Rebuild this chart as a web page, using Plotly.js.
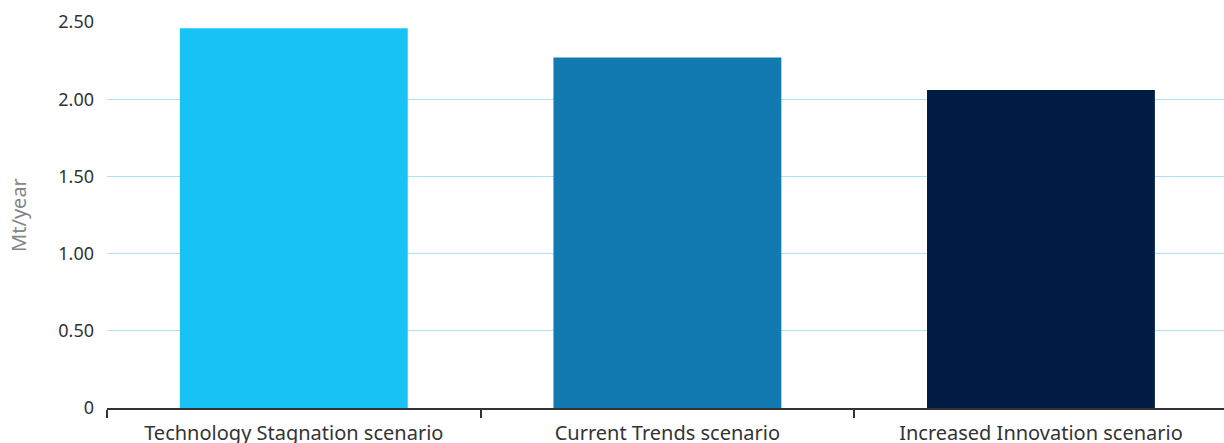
<!DOCTYPE html>
<html>
<head>
<meta charset="utf-8">
<script src="https://cdn.plot.ly/plotly-3.0.1.min.js"></script>
<style>
html,body{margin:0;padding:0;background:#fff;overflow:hidden;}
#chart{width:1224px;height:443px;}
</style>
</head>
<body>
<div id="chart"></div>
<script>
const categories = ["Technology Stagnation scenario", "Current Trends scenario", "Increased Innovation scenario"];
const values = [2.46, 2.27, 2.06];
const barColors = ["#17c2f4", "#127ab0", "#001b44"];
const yTickVals = [0, 0.5, 1.0, 1.5, 2.0, 2.5];
const yTickText = ["0", "0.50", "1.00", "1.50", "2.00", "2.50"];

const trace = {
  type: "bar",
  x: categories,
  y: values,
  marker: {color: barColors},
  hoverinfo: "none"
};

const layout = {
  width: 1224,
  height: 443,
  margin: {l: 107, r: 0, t: 22, b: 35},
  paper_bgcolor: "#ffffff",
  plot_bgcolor: "#ffffff",
  bargap: 0.39,
  showlegend: false,
  font: {family: "Noto Sans, Open Sans, sans-serif", color: "#333333", size: 17},
  xaxis: {
    type: "category",
    range: [-0.5, 2.49],
    showline: true,
    linecolor: "#333333",
    linewidth: 2,
    ticks: "outside",
    tickson: "boundaries",
    ticklen: 8,
    tickwidth: 2,
    tickcolor: "#333333",
    showgrid: false,
    ticklabelstandoff: 6,
    tickfont: {size: 20, color: "#333333"},
    fixedrange: true
  },
  yaxis: {
    range: [0, 2.5],
    tickvals: yTickVals,
    ticktext: yTickText,
    showgrid: true,
    gridcolor: "#aee3f7",
    gridwidth: 1,
    zeroline: false,
    showline: false,
    ticks: "",
    ticklabelstandoff: 12,
    tickfont: {size: 18, color: "#333333"},
    title: {text: "Mt/year", font: {size: 20, color: "#858585"}, standoff: 26},
    fixedrange: true
  }
};

Plotly.newPlot("chart", [trace], layout, {displayModeBar: false, staticPlot: true});
</script>
</body>
</html>
